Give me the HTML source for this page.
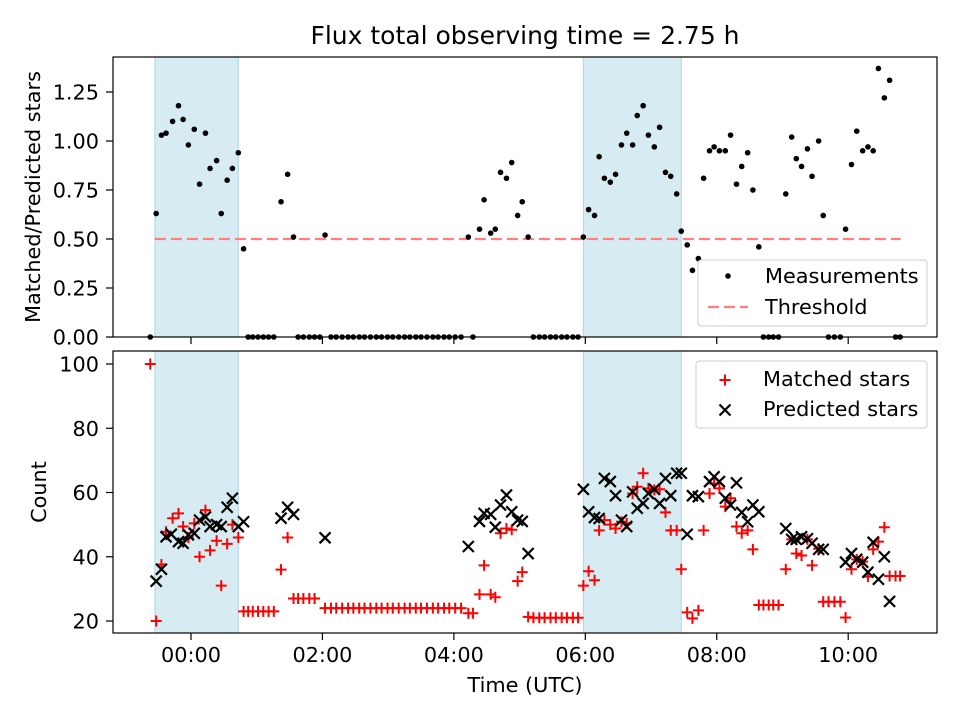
<!DOCTYPE html>
<html><head><meta charset="utf-8"><style>
html,body{margin:0;padding:0;background:#fff}
svg{display:block;font-family:"DejaVu Sans","Liberation Sans",sans-serif}
</style></head><body>
<svg id="chart" width="960" height="720" viewBox="0 0 960 720" xmlns="http://www.w3.org/2000/svg">
<rect width="960" height="720" fill="#fff"/>
<text x="525" y="44" font-size="25" text-anchor="middle">Flux total observing time = 2.75 h</text>
<g id="topPanel"></g>
<g id="botPanel"></g>
<text transform="translate(40,197) rotate(-90)" font-size="20.8" text-anchor="middle">Matched/Predicted stars</text>
<text transform="translate(46,492) rotate(-90)" font-size="20.8" text-anchor="middle">Count</text>
<text x="525" y="692" font-size="20.8" text-anchor="middle">Time (UTC)</text>
</svg>
<script>
const xTicks=[0,2,4,6,8,10];
const xTickLabels=["00:00","02:00","04:00","06:00","08:00","10:00"];
const topYTicks=[0,0.25,0.5,0.75,1.0,1.25];
const topYTickLabels=["0.00","0.25","0.50","0.75","1.00","1.25"];
const botYTicks=[20,40,60,80,100];
const shadeStart=[-0.55,5.97];
const shadeEnd=[0.72,7.46];
const threshold=[0.5];
const thresholdRange=[-0.55,10.8];
const ratioTime=[-0.62,-0.53,-0.45,-0.38,-0.28,-0.19,-0.12,-0.04,0.05,0.13,0.22,0.29,0.39,0.46,0.55,0.63,0.72,0.80,
0.87,0.94,1.02,1.10,1.18,1.26,1.37,1.47,1.56,1.63,1.71,1.80,1.88,1.96,2.04,
2.13,2.21,2.30,2.39,2.47,2.56,2.64,2.73,2.82,2.90,2.99,3.07,3.16,3.25,3.33,3.42,3.50,3.59,3.68,3.76,3.85,3.93,4.02,4.11,
4.22,4.29,4.39,4.46,4.56,4.63,4.71,4.80,4.88,4.97,5.04,5.13,5.21,5.30,5.38,5.47,5.55,5.64,5.72,5.81,5.89,
5.97,6.05,6.14,6.21,6.29,6.38,6.46,6.55,6.63,6.72,6.79,6.88,6.96,7.05,7.13,7.22,7.30,7.39,7.46,7.55,7.63,7.72,7.80,7.89,7.96,8.04,8.13,8.21,8.30,8.38,8.47,8.55,8.64,
8.71,8.79,8.86,8.94,9.05,9.14,9.21,9.29,9.38,9.45,9.55,9.62,9.70,9.79,9.88,9.96,10.05,10.13,10.22,10.30,10.38,10.46,10.55,10.63,10.72,10.79];
const ratioValue=[0,0.63,1.03,1.04,1.10,1.18,1.11,0.98,1.06,0.78,1.04,0.86,0.90,0.63,0.80,0.86,0.94,0.45,
0,0,0,0,0,0,0.69,0.83,0.51,0,0,0,0,0,0.52,
0,0,0,0,0,0,0,0,0,0,0,0,0,0,0,0,0,0,0,0,0,0,0,0,
0.51,0,0.55,0.70,0.53,0.55,0.84,0.81,0.89,0.62,0.69,0.51,0,0,0,0,0,0,0,0,0,
0.51,0.65,0.62,0.92,0.81,0.79,0.83,0.98,1.04,0.98,1.13,1.18,1.03,0.97,1.07,0.84,0.82,0.73,0.54,0.47,0.34,0.40,0.81,0.95,0.97,0.95,0.95,1.03,0.78,0.87,0.94,0.75,0.46,
0,0,0,0,0.73,1.02,0.91,0.87,0.96,0.82,1.00,0.62,0,0,0,0.55,0.88,1.05,0.95,0.97,0.95,1.37,1.22,1.31,0,0];
const matchedTime=[-0.62,-0.53,-0.45,-0.38,-0.28,-0.19,-0.12,-0.04,0.05,0.13,0.22,0.29,0.39,0.46,0.55,0.63,0.72,
0.80,0.87,0.94,1.02,1.10,1.18,1.26,1.37,1.47,1.56,1.63,1.71,1.80,1.88,
2.04,2.13,2.21,2.30,2.39,2.47,2.56,2.64,2.73,2.82,2.90,2.99,3.07,3.16,3.25,3.33,3.42,3.50,3.59,3.68,3.76,3.85,3.93,4.02,4.11,
4.22,4.29,4.39,4.46,4.56,4.63,4.71,4.80,4.88,4.97,5.04,5.13,5.21,5.30,5.38,5.47,5.55,5.64,5.72,5.81,5.89,
5.97,6.05,6.14,6.21,6.29,6.38,6.46,6.55,6.63,6.72,6.79,6.88,6.96,7.05,7.13,7.22,7.30,7.39,7.46,7.55,7.63,7.72,7.80,7.89,7.96,8.04,8.13,8.21,8.30,8.38,8.47,8.55,
8.64,8.71,8.79,8.86,8.94,9.05,9.14,9.21,9.29,9.38,9.45,9.55,9.62,9.70,9.79,9.88,9.96,10.05,10.13,10.22,10.30,10.38,10.46,10.55,10.63,10.72,10.79];
const matchedValue=[100,20,37.6,47.8,52,53.5,49.4,46,50.4,40,54.5,42,45,31,44,50,46,
23,23,23,23,23,23,23,36,46,27,27,27,27,27,
24,24,24,24,24,24,24,24,24,24,24,24,24,24,24,24,24,24,24,24,24,24,24,24,24,
22.4,22.4,28.3,37.3,28.3,27.4,47.3,48.8,48.4,32.4,35.2,21.3,21,21,21,21,21,21,21,21,21,
31,35.5,32.7,48.2,51.4,50,48.8,50.9,50.4,59.7,61.8,66,61.3,60.8,61,53.8,48.2,48.2,36.1,22.7,20.8,23.3,48.2,59.7,62.8,61.3,55.6,58.2,49.4,47.3,48.2,42.3,
25,25,25,25,25,36.1,45.4,41,40.4,45.4,37.3,42.5,26,26,26,26,21.1,36.1,39.2,38.5,33.8,42.3,44.7,49.2,34,34,34];
const predictedTime=[-0.53,-0.45,-0.38,-0.30,-0.19,-0.12,-0.04,0.05,0.13,0.22,0.29,0.39,0.46,0.55,0.63,0.72,0.80,1.37,1.47,1.56,2.04,
4.22,4.39,4.46,4.56,4.63,4.71,4.80,4.88,4.97,5.04,5.13,
5.97,6.05,6.14,6.21,6.29,6.38,6.46,6.55,6.63,6.72,6.79,6.88,6.96,7.05,7.13,7.22,7.30,7.39,7.46,7.55,7.63,7.72,7.89,7.96,8.04,8.13,8.21,8.30,8.38,8.47,8.55,8.64,
9.05,9.14,9.21,9.29,9.38,9.45,9.55,9.62,9.96,10.05,10.13,10.22,10.30,10.38,10.46,10.55,10.63];
const predictedValue=[32.4,36.1,46.2,47,44.7,44.2,46.8,47.3,51.4,52.4,49.4,50,49.4,55.4,58.2,49.4,50.9,52,55.4,53.2,45.9,
43.2,51,53.5,53.2,49.2,56.1,59.2,54,51.4,51,41,
61,54,52.2,51.9,64.4,63.4,59,51.4,49.4,60.2,55.1,56.6,59.7,61,56.6,64.4,59,66,66,47,59,58.7,63.4,64.9,63.4,58.2,56.1,63,53.8,50.9,56.1,54,
48.8,45.4,45.4,46.2,45.6,44.2,42.3,42.3,38.3,41,39.2,38.3,35.2,44.5,33,40,26.1];

const NS="http://www.w3.org/2000/svg";
const L=113,R=937;
const T1=57,B1=337,T2=351,B2=633;
const FS=20.8;
function xs(h){return 191+h*65.72;}
function y1(v){return 337-v*196;}
function y2(v){return 621-(v-20)*3.2125;}
function mk(tag,attrs,parent){const e=document.createElementNS(NS,tag);for(const k in attrs)e.setAttribute(k,attrs[k]);parent.appendChild(e);return e;}
const topG=document.getElementById('topPanel'),botG=document.getElementById('botPanel');

function panel(g,T,B){
  for(let i=0;i<shadeStart.length;i++){
    const r=mk('rect',{x:xs(shadeStart[i]),y:T,width:xs(shadeEnd[i])-xs(shadeStart[i]),height:B-T,fill:'#add8e6','fill-opacity':0.5,stroke:'#add8e6','stroke-width':1},g);
    
    
  }
}
panel(topG,T1,B1);panel(botG,T2,B2);

const th=mk('line',{x1:xs(thresholdRange[0]),x2:xs(thresholdRange[1]),y1:y1(threshold[0]),y2:y1(threshold[0]),stroke:'#ff7f7f','stroke-width':2.3,'stroke-dasharray':'11,5'},topG);



for(let i=0;i<ratioTime.length;i++){
  const c=mk('circle',{cx:xs(ratioTime[i]),cy:y1(ratioValue[i]),r:2.8,fill:'#000'},topG);
  
  
}
for(let i=0;i<matchedTime.length;i++){
  const x=xs(matchedTime[i]),y=y2(matchedValue[i]);
  const p=mk('path',{d:`M${x-5.5},${y}H${x+5.5}M${x},${y-5.5}V${y+5.5}`,stroke:'#f00','stroke-width':2},botG);
  
  
}
for(let i=0;i<predictedTime.length;i++){
  const x=xs(predictedTime[i]),y=y2(predictedValue[i]);
  const p=mk('path',{d:`M${x-5.5},${y-5.5}L${x+5.5},${y+5.5}M${x-5.5},${y+5.5}L${x+5.5},${y-5.5}`,stroke:'#000','stroke-width':2.2},botG);
  
  
}

function frame(g,T,B){
  const f=mk('rect',{x:L,y:T,width:R-L,height:B-T,fill:'none',stroke:'#000','stroke-width':1.2},g);
  
  
  for(let i=0;i<xTicks.length;i++){
    const t=mk('line',{x1:xs(xTicks[i]),x2:xs(xTicks[i]),y1:B,y2:B+7,stroke:'#000','stroke-width':1.2},g);
    
    
  }
}
frame(topG,T1,B1);frame(botG,T2,B2);

for(let i=0;i<xTickLabels.length;i++){
  const t=mk('text',{x:xs(xTicks[i]),y:B2+29,'font-size':FS,'text-anchor':'middle'},botG);
  t.textContent=xTickLabels[i];
  
  
}
for(let i=0;i<topYTicks.length;i++){
  const y=y1(topYTicks[i]);
  const l=mk('line',{x1:L-7,x2:L,y1:y,y2:y,stroke:'#000','stroke-width':1.2},topG);
  
  
  const t=mk('text',{x:L-14,y:y+7.5,'font-size':FS,'text-anchor':'end'},topG);
  t.textContent=topYTickLabels[i];
  
  
}
for(let i=0;i<botYTicks.length;i++){
  const y=y2(botYTicks[i]);
  const l=mk('line',{x1:L-7,x2:L,y1:y,y2:y,stroke:'#000','stroke-width':1.2},botG);
  
  
  const t=mk('text',{x:L-14,y:y+7.5,'font-size':FS,'text-anchor':'end'},botG);
  t.textContent=String(botYTicks[i]);
  
  
}

const lg1=mk('g',{},topG);


mk('rect',{x:698,y:260,width:229,height:66,rx:3,fill:'#fff','fill-opacity':0.8,stroke:'#ccc'},lg1);
mk('circle',{cx:728,cy:276,r:2.8,fill:'#000'},lg1);
let t=mk('text',{x:765,y:283,'font-size':FS},lg1);t.textContent='Measurements';
mk('line',{x1:708,x2:748,y1:307,y2:307,stroke:'#ff7f7f','stroke-width':2.3,'stroke-dasharray':'11,5'},lg1);
t=mk('text',{x:765,y:314,'font-size':FS},lg1);t.textContent='Threshold';

const lg2=mk('g',{},botG);


mk('rect',{x:696,y:361,width:231,height:67,rx:3,fill:'#fff','fill-opacity':0.8,stroke:'#ccc'},lg2);
mk('path',{d:'M719.5,380H730.5M725,374.5V385.5',stroke:'#f00','stroke-width':2},lg2);
t=mk('text',{x:763,y:386,'font-size':FS},lg2);t.textContent='Matched stars';
mk('path',{d:'M719.5,404.5L730.5,415.5M719.5,415.5L730.5,404.5',stroke:'#000','stroke-width':2.2},lg2);
t=mk('text',{x:763,y:416,'font-size':FS},lg2);t.textContent='Predicted stars';
</script>
</body></html>
